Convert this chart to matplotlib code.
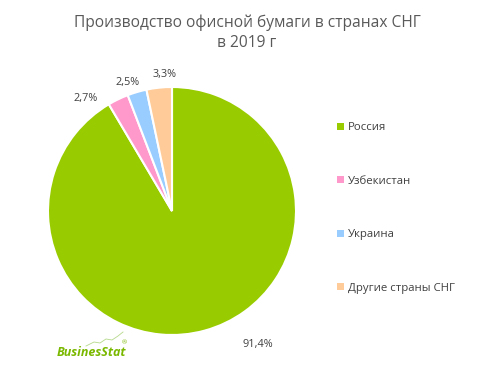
import matplotlib
matplotlib.use('Agg')
import matplotlib.pyplot as plt
from matplotlib.patches import Patch
import numpy as np

# data
categories = ['Россия', 'Узбекистан', 'Украина', 'Другие страны СНГ']
shares = [91.4, 2.7, 2.5, 3.3]
share_labels = ['91,4%', '2,7%', '2,5%', '3,3%']
colors = ['#99cc00', '#ff99cc', '#99ccff', '#ffcc99']

# where Excel put the data labels (in pie radius units)
label_pos = [(0.69, -1.08), (-0.70, 0.91), (-0.36, 1.04), (-0.06, 1.10)]

plt.rcParams['font.family'] = ['Open Sans', 'DejaVu Sans']
text_color = '#404040'

fig = plt.figure(figsize=(4.94, 3.87), dpi=100)
fig.patch.set_facecolor('white')

fig.text(0.5, 0.962, 'Производство офисной бумаги в странах СНГ\nв 2019 г',
         ha='center', va='top', fontsize=11.2, color='#595959', linespacing=1.35)

ax = fig.add_axes([48 / 494, 52 / 387, 248 / 494, 248 / 387])
wedges, _ = ax.pie(shares, colors=colors, startangle=90, counterclock=False,
                   radius=1, wedgeprops=dict(edgecolor='white', linewidth=1.5))
ax.set_xlim(-1, 1)
ax.set_ylim(-1, 1)
ax.set_aspect('equal')
ax.axis('off')

for lab, (x, y) in zip(share_labels, label_pos):
    ax.text(x, y, lab, ha='center', va='center', fontsize=7.8, color=text_color)

handles = [Patch(facecolor=c, edgecolor='none') for c in colors]
fig.legend(handles, categories, loc='upper left', bbox_to_anchor=(327 / 494, 1 - 112 / 387),
           frameon=False, fontsize=8.2, labelcolor=text_color, handlelength=0.55,
           handleheight=0.55, handletextpad=0.4, labelspacing=3.73)

# logo
fig.text(57 / 494, 1 - 352 / 387, 'BusinesStat', fontsize=9, fontstyle='italic',
         fontweight='bold', color='#7ab800', ha='left', va='center')
fig.text(122 / 494, 1 - 343 / 387, '®', fontsize=4.5, color='#7ab800', ha='left', va='center')
swoosh_x = np.array([86, 94, 100, 106, 112, 118, 123]) / 494
swoosh_y = 1 - np.array([346, 342, 343, 339, 340, 336, 332]) / 387
fig.add_artist(plt.Line2D(swoosh_x, swoosh_y, color='#b5d98a', linewidth=0.6))

fig.savefig('out.png', dpi=100, facecolor='white')
